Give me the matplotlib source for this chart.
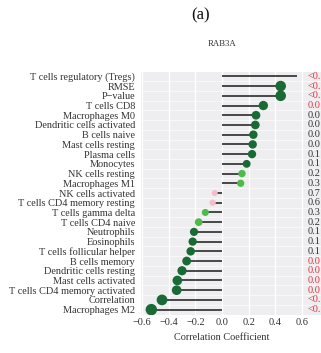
import numpy as np
import matplotlib
matplotlib.use("Agg")
import matplotlib.pyplot as plt

plt.rcParams['font.family'] = ['Liberation Serif', 'DejaVu Serif']

# ---- data (top row first) ----
cells = [
    "T cells regulatory (Tregs)", "RMSE", "P\u2212value", "T cells CD8",
    "Macrophages M0", "Dendritic cells activated", "B cells naive",
    "Mast cells resting", "Plasma cells", "Monocytes", "NK cells resting",
    "Macrophages M1", "NK cells activated", "T cells CD4 memory resting",
    "T cells gamma delta", "T cells CD4 naive", "Neutrophils", "Eosinophils",
    "T cells follicular helper", "B cells memory", "Dendritic cells resting",
    "Mast cells activated", "T cells CD4 memory activated", "Correlation",
    "Macrophages M2",
]
cor = [0.56, 0.44, 0.44, 0.31, 0.255, 0.25, 0.235, 0.23, 0.225, 0.185,
       0.15, 0.14, -0.055, -0.07, -0.125, -0.175, -0.21, -0.22, -0.235,
       -0.265, -0.30, -0.335, -0.34, -0.45, -0.53]
pval = [0.0005, 0.0005, 0.0005, 0.006, 0.061, 0.066, 0.079, 0.083, 0.105,
        0.157, 0.226, 0.312, 0.714, 0.622, 0.341, 0.216, 0.138, 0.124,
        0.113, 0.031, 0.025, 0.012, 0.010, 0.0005, 0.0005]
# p-value column as it is visible in the picture (cut by the right edge)
p_text = ["<0.", "<0.", "<0.", "0.0", "0.0", "0.0", "0.0", "0.0", "0.1",
          "0.1", "0.2", "0.3", "0.7", "0.6", "0.3", "0.2", "0.1", "0.1",
          "0.1", "0.0", "0.0", "0.0", "0.0", "<0.", "<0."]
xticks = [-0.6, -0.4, -0.2, 0.0, 0.2, 0.4, 0.6]

W, H = 321, 353
fig = plt.figure(figsize=(W / 100, H / 100), dpi=100)

def px(x0, y0, x1, y1):
    # pixel box -> figure fraction [left, bottom, width, height]
    return [x0 / W, 1 - y1 / H, (x1 - x0) / W, (y1 - y0) / H]

panel_bg = "#eeeef0"
ax = fig.add_axes(px(141, 71.5, 304, 314.5))
ax2 = fig.add_axes(px(304, 71.5, 360, 314.5))

n = len(cells)
y = np.arange(n)
cor = np.array(cor)
pval = np.array(pval)

def dot_color(p):
    if p < 0.2:
        return "#1a6a35"
    if p < 0.5:
        return "#4dbb4a"
    return "#f5bccb"

ax.set_facecolor(panel_bg)
ax2.set_facecolor(panel_bg)
for a in (ax, ax2):
    for s in a.spines.values():
        s.set_visible(False)
    for yy in y[:-1]:
        a.axhline(yy + 0.5, color="white", lw=0.4, zorder=0.5)

for xt in xticks:
    ax.axvline(xt, color="white", lw=0.9, zorder=0.6)

ax.hlines(y, 0, cor, color="#333333", lw=1.25, zorder=2)
keep = np.abs(cor) <= 0.55   # Tregs falls outside the size scale: no dot
d_px = np.sqrt(25 + 200 * np.abs(cor))   # area grows with |r|
sizes = (d_px * 0.72) ** 2
ax.scatter(cor[keep], y[keep], s=sizes[keep],
           c=[dot_color(p) for p in pval[keep]], zorder=3, linewidths=0)

ax.set_xlim(-0.6075, 0.615)
ax.set_ylim(n - 0.5, -0.5)
ax.set_xticks(xticks)
ax.set_xticklabels([f"{t:.1f}".replace("-", "\u2212") for t in xticks])
ax.set_yticks(y)
ax.set_yticklabels(cells)
ax.tick_params(axis="both", length=0, labelsize=7.4, labelcolor="#333333")
ax.tick_params(axis="y", pad=4.3)
ax.tick_params(axis="x", pad=2.8)

ax2.set_xlim(0, 1)
ax2.set_ylim(n - 0.5, -0.5)
ax2.set_xticks([])
ax2.set_yticks([])
for yy, p, t in zip(y, pval, p_text):
    col = "#e0323f" if p < 0.05 else "#333333"
    ax2.text(4 / 56, yy, t, color=col, fontsize=7.4, va="center", ha="left")

fig.text(222 / W, 1 - 337 / H, "Correlation Coefficient", ha="center",
         va="center", fontsize=7.4, color="#333333")
fig.text(222 / W, 1 - 44 / H, "RAB3A", ha="center", va="center",
         fontsize=6.3, color="#333333")
fig.text(201 / W, 1 - 15 / H, "(a)", ha="center", va="center",
         fontsize=12, color="#111111")

fig.savefig("out.png", dpi=100)
